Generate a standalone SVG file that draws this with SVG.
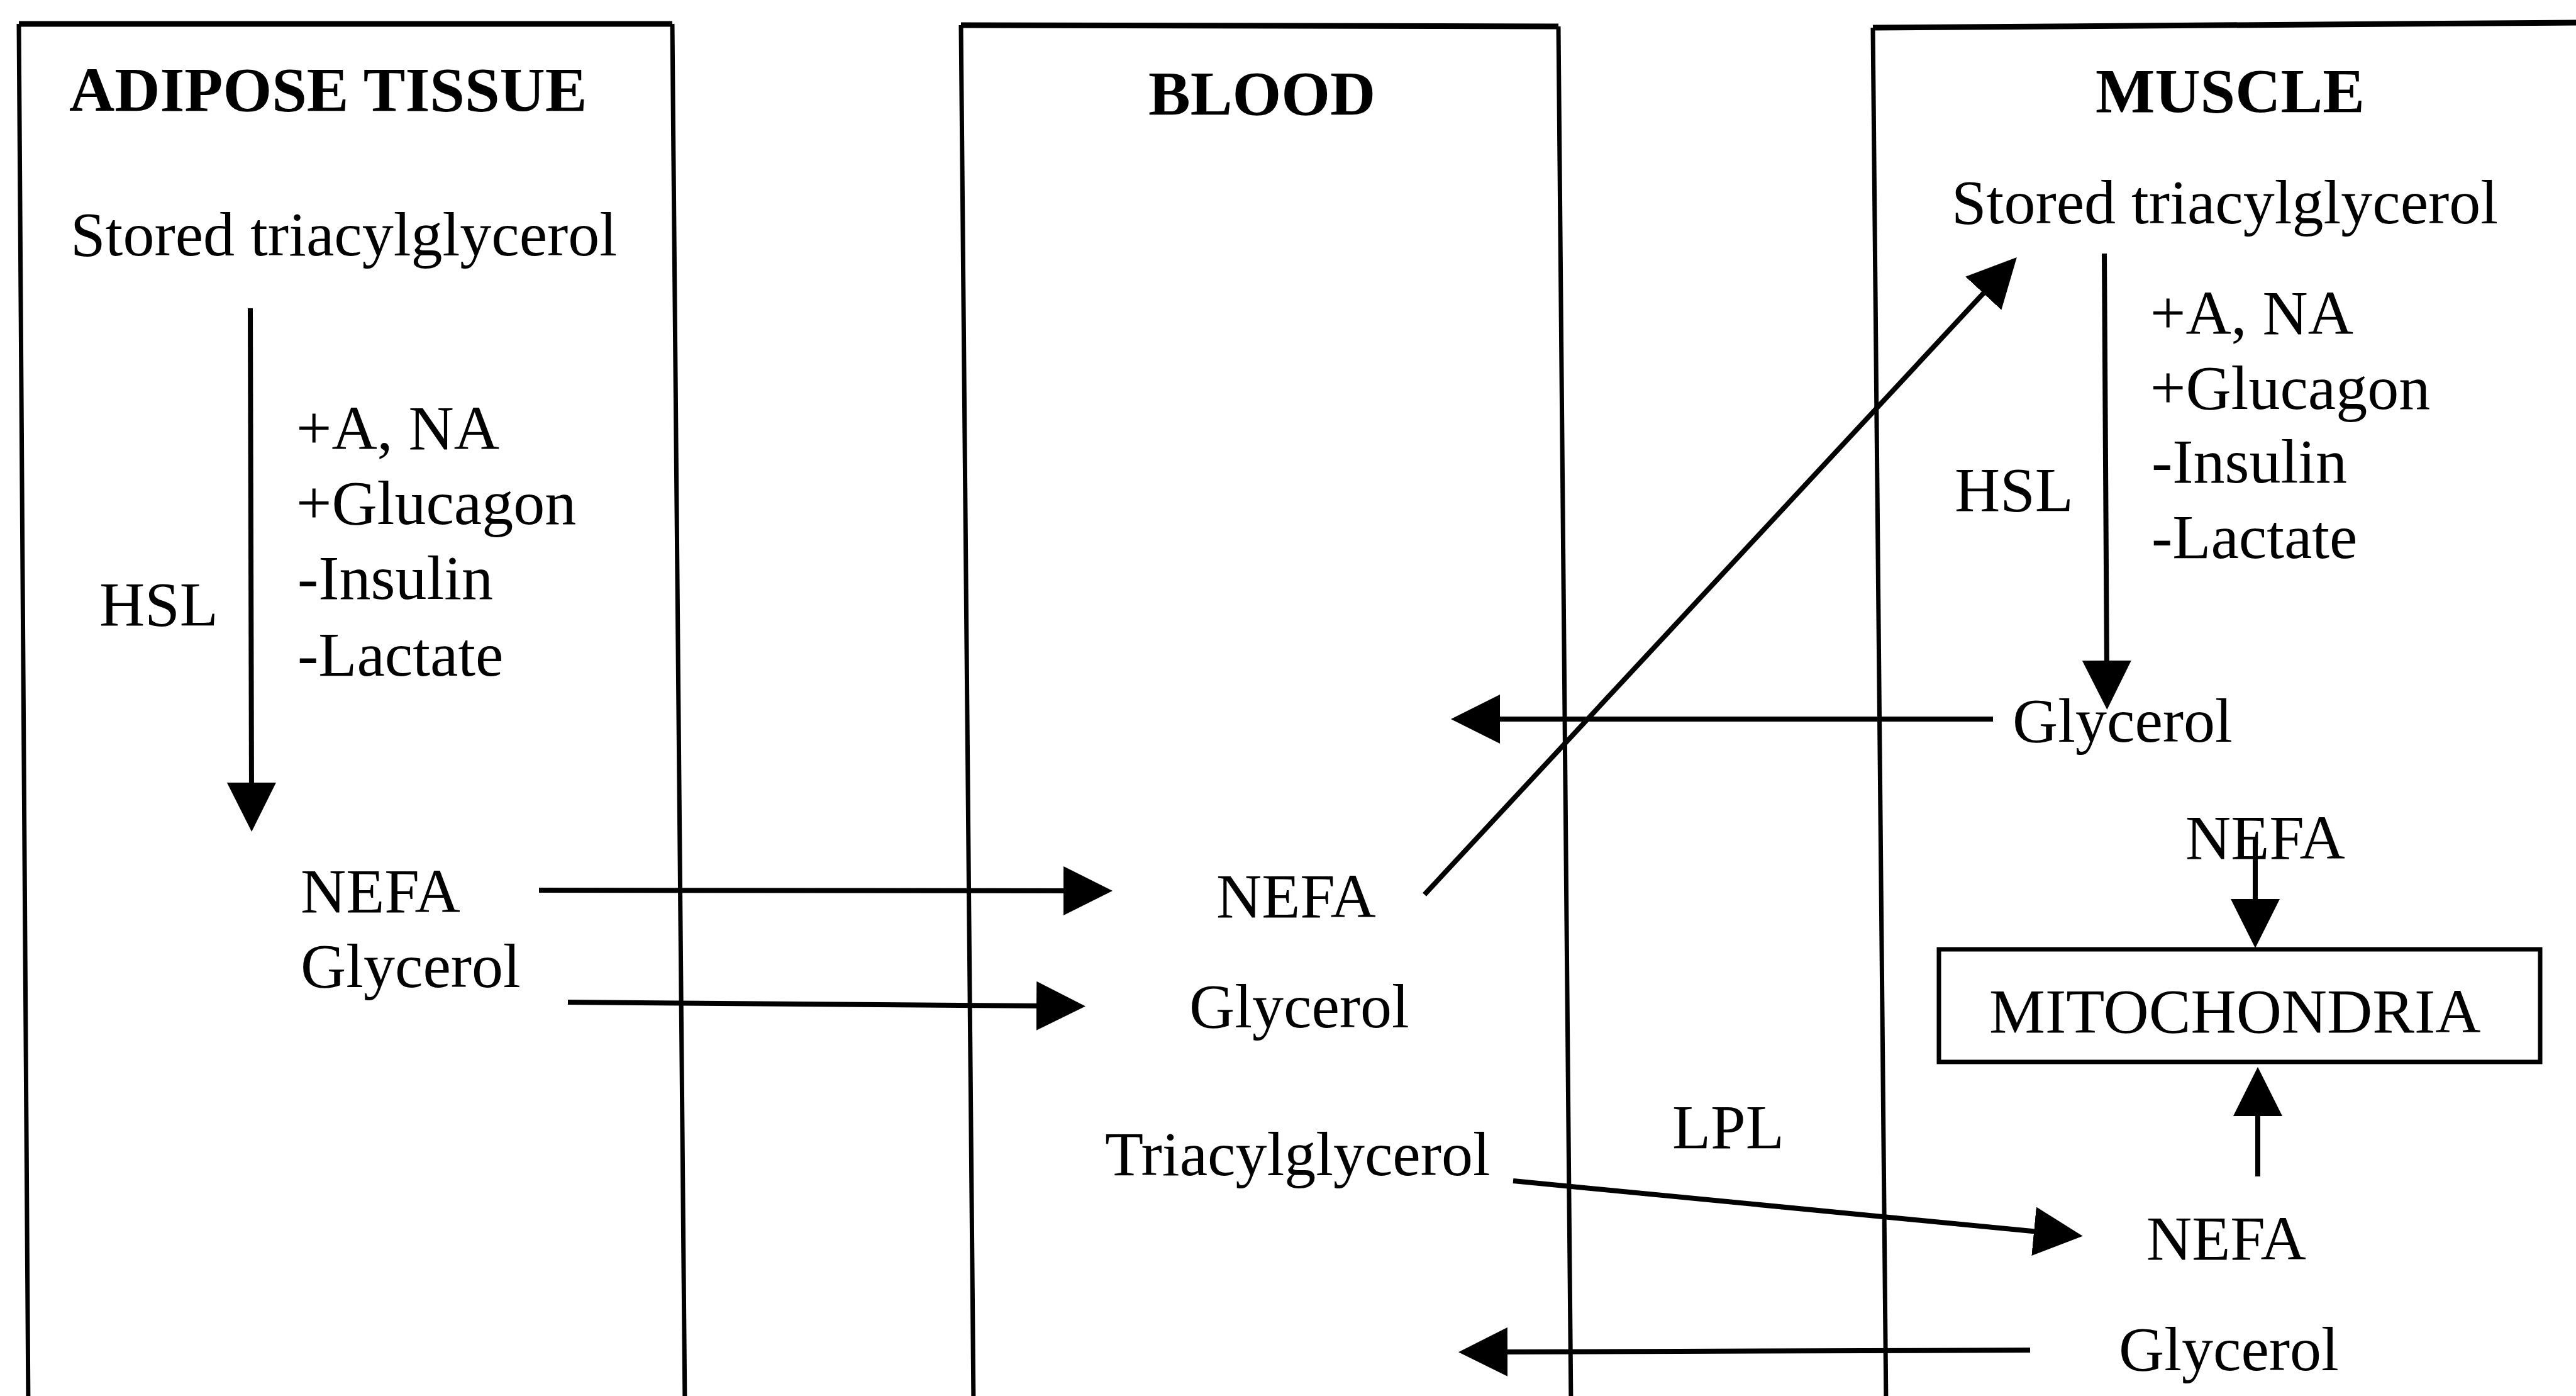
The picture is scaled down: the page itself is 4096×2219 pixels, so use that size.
<svg xmlns="http://www.w3.org/2000/svg" width="4096" height="2219" viewBox="0 0 4096 2219">
<style>
  text { font-family: "Liberation Serif", "Times New Roman", serif; font-size: 100px; fill: #000; }
  .hd { font-weight: bold; }
  .box { fill: none; stroke: #000; stroke-width: 7; }
  .top { fill: none; stroke: #000; stroke-width: 9; }
  .arr { fill: none; stroke: #000; stroke-width: 8; marker-end: url(#ah); }
</style>
<defs>
  <marker id="ah" markerUnits="userSpaceOnUse" markerWidth="78" markerHeight="78" viewBox="0 0 78 78" refX="18" refY="39" orient="auto">
    <path d="M0,0 L78,39 L0,78 z" fill="#000"/>
  </marker>
</defs>
<rect x="0" y="0" width="4096" height="2219" fill="#fff"/>

<g id="adipose">
  <path class="box" d="M30,38 L45,2235 M1069,38 L1089,2235"/>
  <path class="top" d="M30,38 L1069,38"/>
  <text class="hd" x="110" y="176">ADIPOSE TISSUE</text>
  <text x="112" y="406">Stored triacylglycerol</text>
  <text x="158" y="994">HSL</text>
  <text x="471" y="714">+A, NA</text>
  <text x="471" y="833">+Glucagon</text>
  <text x="473" y="952">-Insulin</text>
  <text x="473" y="1074">-Lactate</text>
  <text x="478" y="1450">NEFA</text>
  <text x="478" y="1569">Glycerol</text>
</g>

<g id="blood">
  <path class="box" d="M1528,40 L1548,2235 M2478,42 L2498,2235"/>
  <path class="top" d="M1528,40 L2478,42"/>
  <text class="hd" x="1826" y="182">BLOOD</text>
  <text x="1934" y="1458">NEFA</text>
  <text x="1891" y="1633">Glycerol</text>
  <text x="1757" y="1868">Triacylglycerol</text>
  <text x="2659" y="1825">LPL</text>
</g>

<g id="muscle">
  <path class="box" d="M2978,44 L2999,2235"/>
  <path class="top" d="M2978,44 L4100,36"/>
  <text class="hd" x="3332" y="178">MUSCLE</text>
  <text x="3103" y="355">Stored triacylglycerol</text>
  <text x="3108" y="812">HSL</text>
  <text x="3419" y="531">+A, NA</text>
  <text x="3419" y="650">+Glucagon</text>
  <text x="3421" y="767">-Insulin</text>
  <text x="3421" y="887">-Lactate</text>
  <text x="3200" y="1179">Glycerol</text>
  <text x="3475" y="1365">NEFA</text>
  <text x="3413" y="2002">NEFA</text>
  <text x="3369" y="2178">Glycerol</text>
</g>

<g id="mitochondria">
  <rect class="box" x="3083" y="1509" width="956" height="179"/>
  <text x="3163" y="1641">MITOCHONDRIA</text>
</g>

<g id="connectors">
  <path class="arr" d="M398,490 L400,1262"/>
  <path class="arr" d="M857,1415 L1709,1416"/>
  <path class="arr" d="M903,1593 L1666,1599"/>
  <path class="arr" d="M2265,1422 L3166,453"/>
  <path class="arr" d="M3169,1143 L2367,1143"/>
  <path class="arr" d="M3228,2146 L2379,2149"/>
  <path class="arr" d="M2406,1877 L3252,1959"/>
  <path class="arr" d="M3346,403 L3350,1068"/>
  <path class="arr" d="M3586,1333 L3586,1447"/>
  <path class="arr" d="M3590,1870 L3590,1756"/>
</g>
</svg>
